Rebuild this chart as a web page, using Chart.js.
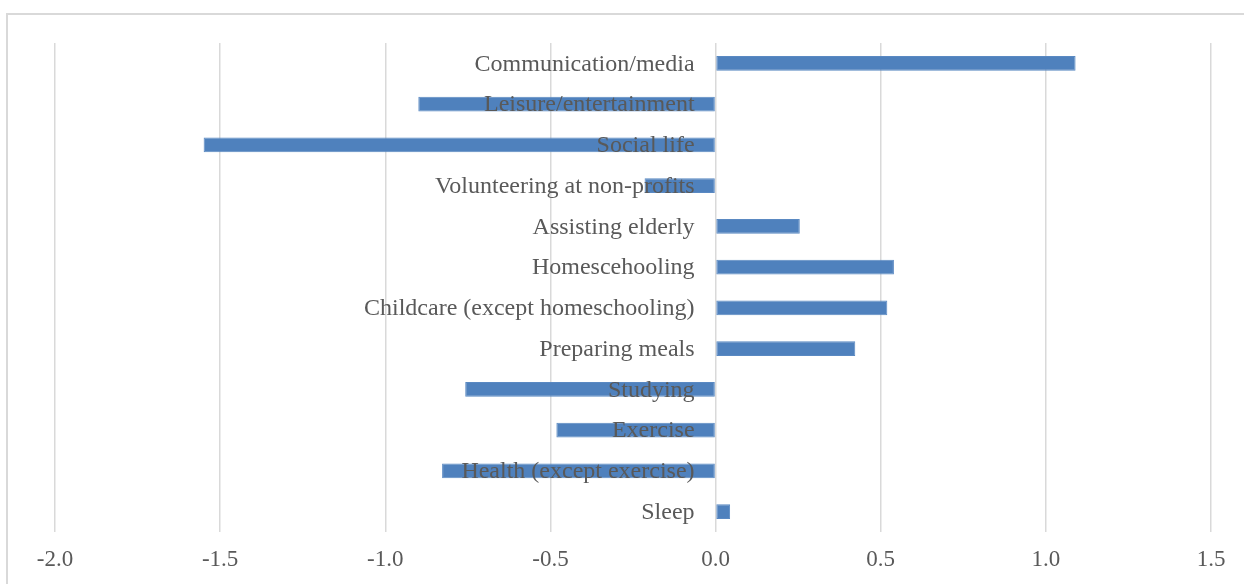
<!DOCTYPE html>
<html>
<head>
<meta charset="utf-8">
<script src="https://cdn.jsdelivr.net/npm/chart.js@4/dist/chart.umd.min.js"></script>
<style>
  html, body { margin: 0; padding: 0; background: #ffffff; }
  #wrap { position: relative; width: 1244px; height: 584px; }
</style>
</head>
<body>
<div id="wrap"><canvas id="c" width="1244" height="584"></canvas></div>
<script>
const categories = [
  "Communication/media",
  "Leisure/entertainment",
  "Social life",
  "Volunteering at non-profits",
  "Assisting elderly",
  "Homescehooling",
  "Childcare (except homeschooling)",
  "Preparing meals",
  "Studying",
  "Exercise",
  "Health (except exercise)",
  "Sleep"
];
const values = [1.09, -0.90, -1.55, -0.215, 0.255, 0.54, 0.52, 0.423, -0.758, -0.482, -0.828, 0.044];
const xTickMin = -2.0;
const xTickMax = 1.5;
const xTickStep = 0.5;

const FONT = '"Liberation Serif", "Times New Roman", serif';
const TEXT = '#595959';

const borderPlugin = {
  id: 'outerBorder',
  beforeDraw(chart) {
    const ctx = chart.ctx;
    ctx.save();
    ctx.strokeStyle = '#d9d9d9';
    ctx.lineWidth = 2;
    ctx.beginPath();
    ctx.moveTo(7, 584);
    ctx.lineTo(7, 14);
    ctx.lineTo(1244, 14);
    ctx.stroke();
    ctx.restore();
  }
};

const labelPlugin = {
  id: 'zeroLabels',
  afterDatasetsDraw(chart) {
    const ctx = chart.ctx;
    const xs = chart.scales.x, ys = chart.scales.y;
    const x0 = xs.getPixelForValue(0) - 21;
    ctx.save();
    ctx.font = '24px ' + FONT;
    ctx.fillStyle = TEXT;
    ctx.textAlign = 'right';
    ctx.textBaseline = 'middle';
    categories.forEach((c, i) => {
      ctx.fillText(c, x0, ys.getPixelForValue(i) + 1);
    });
    ctx.restore();
  }
};

new Chart(document.getElementById('c'), {
  type: 'bar',
  data: {
    labels: categories,
    datasets: [{
      data: values,
      backgroundColor: '#4f81bd',
      borderColor: '#5a89c2',
      borderWidth: 1,
      borderSkipped: false,
      categoryPercentage: 1,
      barPercentage: 0.36
    }]
  },
  options: {
    indexAxis: 'y',
    responsive: false,
    animation: false,
    devicePixelRatio: 1,
    layout: { padding: { left: 55, right: 33, top: 43, bottom: 0 } },
    plugins: { legend: { display: false }, tooltip: { enabled: false } },
    scales: {
      x: {
        min: xTickMin,
        max: xTickMax,
        border: { display: false },
        grid: { color: '#d9d9d9', lineWidth: 1.5, drawTicks: false },
        ticks: {
          stepSize: xTickStep,
          padding: 14,
          color: TEXT,
          font: { family: FONT, size: 23 },
          maxRotation: 0,
          callback: v => Number(v).toFixed(1)
        },
        afterFit(s) { s.height = 52; }
      },
      y: { display: false }
    }
  },
  plugins: [borderPlugin, labelPlugin]
});
</script>
</body>
</html>
